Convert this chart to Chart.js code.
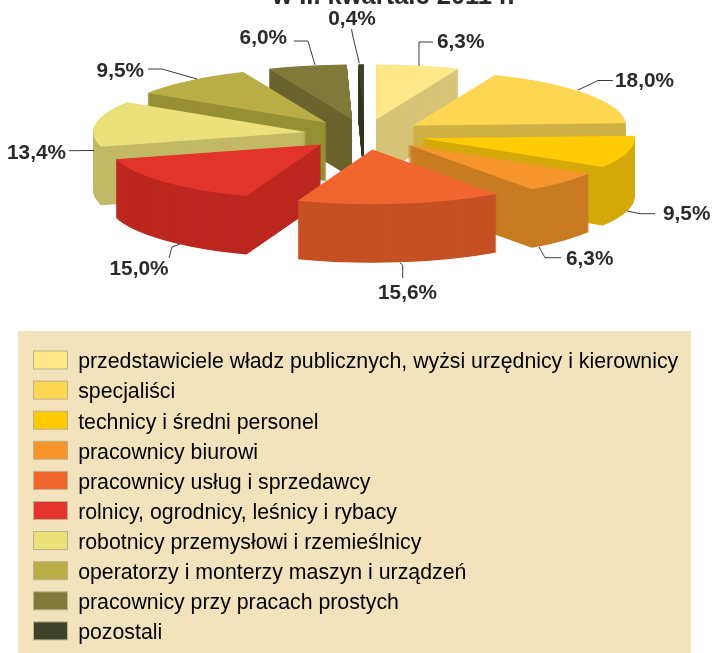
<!DOCTYPE html>
<html lang="pl">
<head>
<meta charset="utf-8">
<style>html,body{margin:0;padding:0;background:#fff}canvas{display:block}</style>
<script src="https://cdn.jsdelivr.net/npm/chart.js@4"></script>
</head>
<body>
<canvas id="c" width="712" height="653"></canvas>
<script>
const TITLE = 'w II. kwartale 2011 r.';
const categories = [
  'przedstawiciele władz publicznych, wyżsi urzędnicy i kierownicy',
  'specjaliści',
  'technicy i średni personel',
  'pracownicy biurowi',
  'pracownicy usług i sprzedawcy',
  'rolnicy, ogrodnicy, leśnicy i rybacy',
  'robotnicy przemysłowi i rzemieślnicy',
  'operatorzy i monterzy maszyn i urządzeń',
  'pracownicy przy pracach prostych',
  'pozostali'
];
const shares = [6.3, 18.0, 9.5, 6.3, 15.6, 15.0, 13.4, 9.5, 6.0, 0.4];
const shareLabels = ['6,3%','18,0%','9,5%','6,3%','15,6%','15,0%','13,4%','9,5%','6,0%','0,4%'];
const topColors = ['#FFE88A','#FFD651','#FFCB05','#F5952B','#F1652F','#E3342C','#EBE07A','#B8AE45','#807A3A','#3E432A'];
const wallColors = ['#D7C478','#CFB145','#D4A90A','#C87C22','#C65124','#BC2820','#C2B967','#979035','#6B642E','#343820'];

// Pseudo-3D projection of the pie
const PIE = {cx: 364.6, cy: 134.3, radius: 213, squash: 0.258, explode: 59, depth: 58.5};
// Back-to-front painting order of the slices
const PAINT_ORDER = [0, 9, 8, 7, 6, 5, 1, 2, 3, 4];
// Label anchor (x, y) and leader polyline, per slice
const CALLOUTS = [
  {x: 437, y: 42,  align: 'left',   line: [[419,66],[419,42],[433,42]]},
  {x: 615, y: 81,  align: 'left',   line: [[578,90],[598,80.5],[613,80.5]]},
  {x: 663, y: 214, align: 'left',   line: [[627,211],[640,213.7],[655,213.7]]},
  {x: 566, y: 259, align: 'left',   line: [[539,247],[545,257.7],[561,257.7]]},
  {x: 407.5, y: 293, align: 'center', line: [[400,263],[402.7,265],[402.7,278]]},
  {x: 139, y: 269, align: 'center', line: [[180,244],[172,247],[169,258]]},
  {x: 66,  y: 153, align: 'right',  line: [[69,150.7],[94,150.5]]},
  {x: 144, y: 71,  align: 'right',  line: [[148,69],[162,69],[197,79]]},
  {x: 287, y: 38,  align: 'right',  line: [[294,41],[308,41],[315,65]]},
  {x: 352, y: 19,  align: 'center', line: [[351.5,29],[353,37],[359.3,63]]}
];
const INK = '#2B2A29';
const SWATCH = {w: 34, h: 18, raise: 0.8, border: '#BDB08C'};

function paintSlice(ctx, arc, color, yShift) {
  const mid = (arc.startAngle + arc.endAngle) / 2;
  const stand = Object.create(arc, {options: {value: {
    backgroundColor: color, borderColor: color, borderWidth: 0, borderRadius: 0,
    offset: 0, spacing: 0, circular: true, borderAlign: 'center'
  }}});
  ctx.save();
  ctx.translate(PIE.cx, PIE.cy + yShift);
  ctx.scale(1, PIE.squash);
  ctx.translate(Math.cos(mid) * PIE.explode - arc.x, Math.sin(mid) * PIE.explode - arc.y);
  stand.draw(ctx);
  ctx.restore();
}

const pie3d = {
  id: 'pie3d',
  beforeDraw(chart) {
    const ctx = chart.ctx;
    ctx.save();
    ctx.fillStyle = '#F3E3BD';
    ctx.fillRect(18, 331, 673, 322);
    ctx.restore();
  },
  beforeDatasetsDraw(chart) {
    const ctx = chart.ctx;
    const arcs = chart.getDatasetMeta(0).data;
    PAINT_ORDER.forEach(i => {
      for (let h = PIE.depth; h >= 0.5; h -= 0.5) paintSlice(ctx, arcs[i], wallColors[i], h);
      paintSlice(ctx, arcs[i], topColors[i], 0);
    });
    return false;
  },
  afterDraw(chart) {
    const ctx = chart.ctx;
    ctx.save();
    // Legend swatches sit slightly higher than the legend's own text centre
    ctx.lineWidth = 1;
    ctx.strokeStyle = SWATCH.border;
    chart.legend.legendHitBoxes.forEach((hit, i) => {
      ctx.fillStyle = topColors[i];
      ctx.fillRect(hit.left, hit.top - SWATCH.raise, SWATCH.w, SWATCH.h);
      ctx.strokeRect(hit.left, hit.top - SWATCH.raise, SWATCH.w, SWATCH.h);
    });
    ctx.fillStyle = INK;
    ctx.textBaseline = 'middle';
    ctx.font = 'bold 20.8px "Liberation Sans", Arial, sans-serif';
    ctx.strokeStyle = '#3a3a38';
    CALLOUTS.forEach((c, i) => {
      ctx.beginPath();
      c.line.forEach((p, j) => j ? ctx.lineTo(p[0], p[1]) : ctx.moveTo(p[0], p[1]));
      ctx.stroke();
      ctx.textAlign = c.align;
      ctx.fillText(shareLabels[i], c.x, c.y);
    });
    ctx.textAlign = 'center';
    ctx.textBaseline = 'alphabetic';
    ctx.font = 'bold 25.5px "Liberation Sans", Arial, sans-serif';
    ctx.fillText(TITLE, 393.5, 4);
    ctx.restore();
  }
};

new Chart(document.getElementById('c'), {
  type: 'pie',
  plugins: [pie3d],
  data: {
    labels: categories,
    datasets: [{data: shares, backgroundColor: topColors, borderWidth: 0, radius: PIE.radius}]
  },
  options: {
    responsive: false,
    animation: false,
    layout: {padding: {left: 24.7, top: 343, right: 0, bottom: 0}},
    plugins: {
      title: {display: false},
      tooltip: {enabled: false},
      legend: {
        display: true,
        position: 'left',
        align: 'start',
        maxWidth: 668,
        labels: {
          boxWidth: 34,
          boxHeight: 18,
          padding: 8.8,
          color: INK,
          font: {family: '"Liberation Sans", Arial, sans-serif', size: 21.3},
          generateLabels: chart => chart.data.labels.map((text, i) => ({
            text,
            fillStyle: 'rgba(0,0,0,0)',
            strokeStyle: 'rgba(0,0,0,0)',
            lineWidth: 0,
            hidden: false,
            index: i
          }))
        }
      }
    }
  }
});
</script>
</body>
</html>
